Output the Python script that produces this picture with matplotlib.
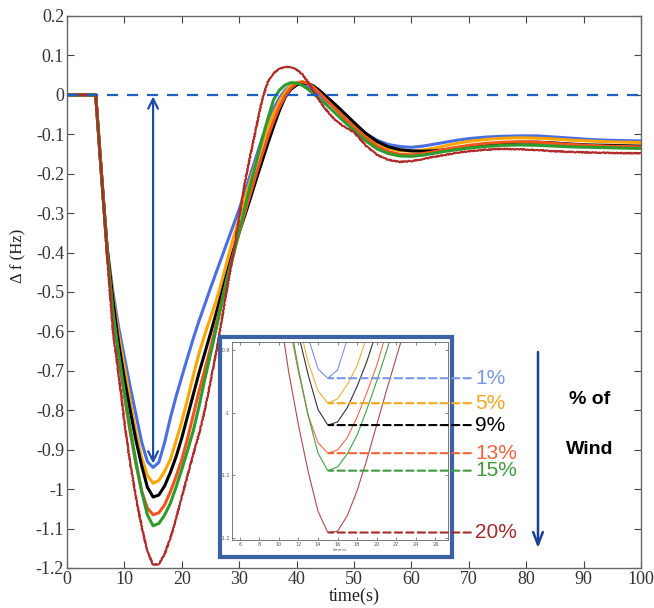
import numpy as np
import matplotlib
matplotlib.use("Agg")
import matplotlib.pyplot as plt
from matplotlib.patches import Rectangle

# time axis (s) and frequency deviation (Hz)
t = [0, 5] + list(range(6, 51)) + list(range(52, 71, 2)) + list(range(73, 101, 3))

df_1 = [0, 0,
        -0.20, -0.39, -0.50, -0.59, -0.665, -0.74, -0.81, -0.88, -0.93, -0.945,
        -0.932, -0.882, -0.82, -0.765, -0.715, -0.666, -0.618, -0.573, -0.532, -0.49,
        -0.45, -0.41, -0.37, -0.33, -0.29, -0.245, -0.20, -0.155, -0.11, -0.07,
        -0.035, -0.008, 0.012, 0.024, 0.028, 0.026, 0.02, 0.01, 0.0, -0.012,
        -0.024, -0.037, -0.05, -0.062, -0.074,
        -0.098, -0.115, -0.126, -0.131, -0.133, -0.13, -0.125, -0.12, -0.115, -0.111,
        -0.107, -0.105, -0.104, -0.104, -0.107, -0.11, -0.113, -0.115, -0.116, -0.117]
df_5 = [0, 0,
        -0.20, -0.39, -0.51, -0.61, -0.69, -0.775, -0.855, -0.92, -0.965, -0.985,
        -0.978, -0.955, -0.925, -0.878, -0.828, -0.772, -0.712, -0.656, -0.608, -0.565,
        -0.522, -0.472, -0.415, -0.362, -0.312, -0.262, -0.214, -0.168, -0.124, -0.083,
        -0.047, -0.017, 0.007, 0.023, 0.031, 0.033, 0.028, 0.019, 0.007, -0.006,
        -0.019, -0.033, -0.047, -0.06, -0.073,
        -0.10, -0.122, -0.136, -0.142, -0.143, -0.14, -0.135, -0.129, -0.123, -0.118,
        -0.113, -0.11, -0.109, -0.11, -0.112, -0.115, -0.117, -0.119, -0.12, -0.121]
df_9 = [0, 0,
        -0.20, -0.39, -0.52, -0.63, -0.72, -0.80, -0.875, -0.94, -0.995, -1.02,
        -1.015, -0.992, -0.958, -0.918, -0.87, -0.815, -0.76, -0.705, -0.655, -0.605,
        -0.553, -0.50, -0.446, -0.394, -0.348, -0.305, -0.26, -0.213, -0.168, -0.123,
        -0.08, -0.04, -0.006, 0.014, 0.025, 0.03, 0.029, 0.022, 0.011, -0.002,
        -0.015, -0.028, -0.042, -0.056, -0.07,
        -0.097, -0.118, -0.132, -0.139, -0.142, -0.143, -0.142, -0.139, -0.134, -0.13,
        -0.125, -0.122, -0.12, -0.12, -0.122, -0.125, -0.127, -0.128, -0.129, -0.13]
df_13 = [0, 0,
         -0.20, -0.40, -0.55, -0.66, -0.765, -0.855, -0.935, -1.005, -1.048, -1.065,
         -1.06, -1.04, -1.007, -0.968, -0.925, -0.872, -0.812, -0.752, -0.697, -0.642,
         -0.582, -0.52, -0.458, -0.403, -0.35, -0.298, -0.248, -0.199, -0.151, -0.106,
         -0.066, -0.031, -0.003, 0.017, 0.029, 0.033, 0.029, 0.019, 0.005, -0.01,
         -0.024, -0.039, -0.054, -0.068, -0.081,
         -0.108, -0.13, -0.144, -0.151, -0.152, -0.149, -0.144, -0.138, -0.133, -0.128,
         -0.123, -0.12, -0.119, -0.12, -0.123, -0.126, -0.128, -0.13, -0.131, -0.132]
df_15 = [0, 0,
         -0.20, -0.40, -0.555, -0.66, -0.755, -0.845, -0.93, -1.005, -1.065, -1.093,
         -1.087, -1.066, -1.036, -0.995, -0.95, -0.902, -0.852, -0.79, -0.722, -0.658,
         -0.593, -0.525, -0.46, -0.405, -0.345, -0.285, -0.226, -0.17, -0.112, -0.06,
         -0.012, 0.012, 0.025, 0.031, 0.03, 0.024, 0.014, 0.002, -0.01, -0.022,
         -0.036, -0.05, -0.064, -0.077, -0.09,
         -0.116, -0.137, -0.149, -0.155, -0.156, -0.153, -0.148, -0.143, -0.139, -0.135,
         -0.131, -0.128, -0.127, -0.128, -0.13, -0.132, -0.133, -0.134, -0.135, -0.136]
df_20 = [0, 0,
         -0.20, -0.41, -0.60, -0.71, -0.83, -0.935, -1.02, -1.095, -1.158, -1.192,
         -1.19, -1.165, -1.125, -1.075, -1.02, -0.965, -0.912, -0.86, -0.80, -0.728,
         -0.652, -0.568, -0.482, -0.40, -0.31, -0.222, -0.15, -0.08, -0.012, 0.033,
         0.055, 0.066, 0.071, 0.07, 0.064, 0.052, 0.032, 0.008, -0.015, -0.035,
         -0.053, -0.067, -0.078, -0.087, -0.095,
         -0.128, -0.152, -0.165, -0.17, -0.168, -0.163, -0.157, -0.152, -0.147, -0.143,
         -0.139, -0.137, -0.138, -0.14, -0.143, -0.145, -0.146, -0.147, -0.148, -0.148]

wind_labels = ["1%", "5%", "9%", "13%", "15%", "20%"]
series = [df_1, df_5, df_9, df_13, df_15, df_20]

main_colors = ["#4a6fe3", "#ffa500", "#000000", "#f2541b", "#2e9b2e", "#b02a2a"]
main_widths = [2.2, 2.2, 2.2, 2.2, 2.2, 1.5]
inset_colors = ["#7d90e2", "#f2ad3a", "#333333", "#f46a4a", "#3fa24a", "#b04a4a"]
label_colors = ["#7b96e8", "#f2a81d", "#000000", "#f0643c", "#3f9a3f", "#a52a2a"]
draw_order = [0, 1, 3, 4, 2, 5]

serif = "Liberation Serif"

fig = plt.figure(figsize=(6.54, 6.08), dpi=100)
W, H = 654, 608
ax = fig.add_axes([67 / W, 1 - 568 / H, (641 - 67) / W, (568 - 16) / H])

for i in draw_order:
    ln, = ax.plot(t, series[i], color=main_colors[i], lw=main_widths[i],
                  solid_joinstyle="round", zorder=2 + i * 0.1)
    if i == 5:
        ln.set_sketch_params(scale=0.5, length=3, randomness=2)

ax.axhline(0, color="#2060c0", lw=1.6, ls=(0, (5, 4)), zorder=4)
ax.annotate("", xy=(15, -0.935), xytext=(15, -0.004),
            arrowprops=dict(arrowstyle="<->,head_length=0.7,head_width=0.35",
                            color="#1f4aa8", lw=1.6, shrinkA=0, shrinkB=0),
            zorder=4)

ax.set_xlim(0, 100)
ax.set_ylim(-1.2, 0.2)
ax.set_xticks(range(0, 101, 10))
yt = [k / 10 for k in range(-12, 3)]
ax.set_yticks(yt)
ax.set_yticklabels([f"{v:g}" for v in yt])
ax.tick_params(direction="in", top=True, right=True, length=5, width=0.8,
               color="#444444", labelsize=13, pad=2)
for lab in ax.get_xticklabels() + ax.get_yticklabels():
    lab.set_fontfamily(serif)
    lab.set_color("#333333")
for sp in ax.spines.values():
    sp.set_color("#666666")
    sp.set_linewidth(1.0)
ax.set_xlabel("time(s)", fontfamily=serif, fontsize=13, color="#222222", labelpad=0)
ax.set_ylabel("Δ f (Hz)", fontfamily=serif, fontsize=12, color="#222222")
ax.yaxis.set_label_coords(-0.07, 0.565)

# inset frame + zoomed view of the nadir
fig.add_artist(Rectangle((220 / W, 1 - 557 / H), (452 - 220) / W, (557 - 337) / H,
                         transform=fig.transFigure, facecolor="white",
                         edgecolor="#3b62a6", lw=3, zorder=5))
axi = fig.add_axes([232 / W, 1 - 540 / H, (448 - 232) / W, (540 - 342) / H])
axi.set_zorder(6)
for i in draw_order:
    axi.plot(t, series[i], color=inset_colors[i], lw=0.8)
axi.set_xlim(5.2, 27.3)
axi.set_ylim(-1.204, -0.887)
axi.set_xticks(range(6, 27, 2))
axi.set_yticks([-1.2, -1.1, -1.0, -0.9])
axi.set_yticklabels(["-1.2", "-1.1", "-1", "-0.9"])
axi.tick_params(direction="in", top=True, right=True, length=2, width=0.5,
                labelsize=3.5, pad=1.5, color="#555555", labelcolor="#555555")
for sp in axi.spines.values():
    sp.set_color("#777777")
    sp.set_linewidth(0.7)
axi.set_xlabel("time(s)", fontsize=3, labelpad=0.5, color="#555555")

for i, lab in enumerate(wind_labels):
    m = min(series[i])
    axi.annotate(lab, xy=(15.1, m), xycoords="data",
                 xytext=(1.125, m), textcoords=("axes fraction", "data"),
                 va="center", ha="left", fontsize=15, color=label_colors[i],
                 family="Liberation Sans",
                 arrowprops=dict(arrowstyle="-", ls=(0, (3.5, 2)), lw=1.5,
                                 color=label_colors[i], shrinkA=1, shrinkB=0),
                 annotation_clip=False)

fig.text(590 / W, 1 - 399 / H, "% of", ha="center", va="center",
         fontsize=14, fontweight="bold", family="Liberation Sans")
fig.text(590 / W, 1 - 449 / H, "Wind", ha="center", va="center",
         fontsize=14, fontweight="bold", family="Liberation Sans")
ax.annotate("", xy=(538, H - 548), xycoords="figure pixels",
            xytext=(538, H - 352), textcoords="figure pixels",
            arrowprops=dict(arrowstyle="->,head_length=0.9,head_width=0.35",
                            color="#1c3f94", lw=1.8, shrinkA=0, shrinkB=0),
            annotation_clip=False)

fig.savefig("out.png", dpi=100)
